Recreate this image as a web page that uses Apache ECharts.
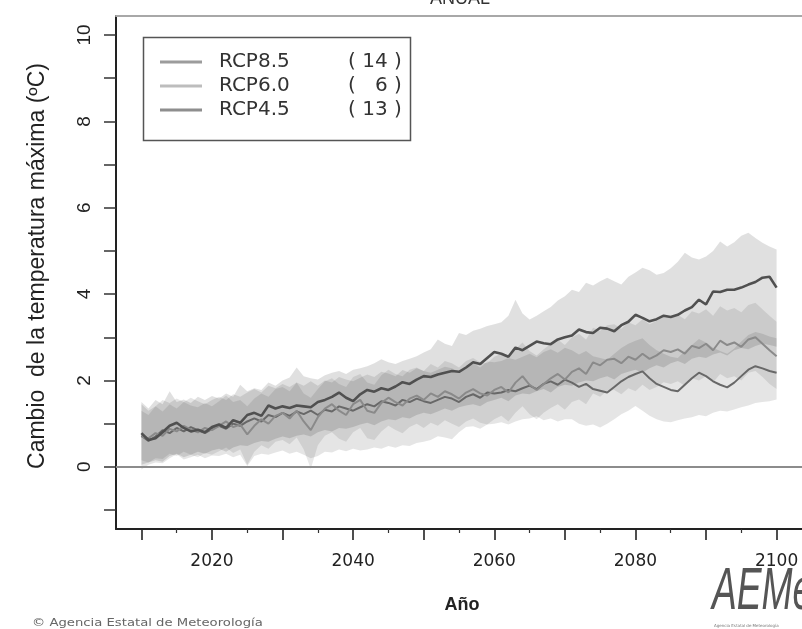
<!DOCTYPE html>
<html><head><meta charset="utf-8">
<script src="https://cdn.jsdelivr.net/npm/echarts@6/dist/echarts.min.js"></script>
<style>html,body{margin:0;padding:0;background:#fff}#c{width:802px;height:629px}</style>
</head><body><div id="c"></div>
<script>
const years = [2010,2011,2012,2013,2014,2015,2016,2017,2018,2019,2020,2021,2022,2023,2024,2025,2026,2027,2028,2029,2030,2031,2032,2033,2034,2035,2036,2037,2038,2039,2040,2041,2042,2043,2044,2045,2046,2047,2048,2049,2050,2051,2052,2053,2054,2055,2056,2057,2058,2059,2060,2061,2062,2063,2064,2065,2066,2067,2068,2069,2070,2071,2072,2073,2074,2075,2076,2077,2078,2079,2080,2081,2082,2083,2084,2085,2086,2087,2088,2089,2090,2091,2092,2093,2094,2095,2096,2097,2098,2099,2100];

const rcp85Mean = [0.78,0.62,0.66,0.80,0.95,1.02,0.90,0.82,0.86,0.80,0.92,0.98,0.90,1.08,1.02,1.20,1.25,1.18,1.42,1.35,1.40,1.36,1.42,1.40,1.38,1.50,1.55,1.62,1.72,1.60,1.52,1.68,1.78,1.74,1.82,1.78,1.86,1.96,1.92,2.02,2.10,2.08,2.14,2.18,2.22,2.20,2.30,2.42,2.38,2.52,2.66,2.62,2.55,2.76,2.70,2.80,2.90,2.86,2.84,2.95,3.00,3.04,3.18,3.12,3.10,3.22,3.20,3.14,3.28,3.36,3.52,3.45,3.37,3.42,3.50,3.47,3.52,3.62,3.70,3.87,3.76,4.06,4.05,4.10,4.10,4.15,4.22,4.28,4.38,4.40,4.15];
const rcp60Mean = [0.70,0.66,0.78,0.72,0.88,0.82,0.95,0.86,0.80,0.90,0.85,0.95,1.05,0.92,0.98,0.75,0.95,1.10,1.00,1.18,1.25,1.12,1.30,1.05,0.85,1.15,1.35,1.45,1.30,1.20,1.45,1.55,1.30,1.25,1.48,1.60,1.50,1.42,1.58,1.65,1.55,1.70,1.62,1.75,1.68,1.58,1.72,1.80,1.70,1.65,1.78,1.85,1.72,1.95,2.10,1.90,1.78,1.92,2.05,2.15,2.02,2.20,2.28,2.15,2.42,2.35,2.48,2.50,2.40,2.55,2.48,2.62,2.50,2.58,2.70,2.66,2.72,2.62,2.80,2.75,2.85,2.70,2.92,2.82,2.88,2.78,2.95,3.00,2.85,2.70,2.56];
const rcp45Mean = [0.72,0.60,0.70,0.85,0.78,0.90,0.82,0.92,0.85,0.78,0.88,0.95,0.88,1.00,0.95,1.05,1.12,1.05,1.20,1.15,1.25,1.18,1.28,1.22,1.30,1.20,1.32,1.28,1.40,1.35,1.30,1.38,1.45,1.40,1.52,1.48,1.42,1.55,1.50,1.58,1.52,1.48,1.55,1.62,1.58,1.50,1.62,1.68,1.60,1.72,1.70,1.72,1.78,1.75,1.82,1.88,1.80,1.92,1.98,1.90,2.02,1.95,1.85,1.92,1.80,1.76,1.72,1.85,1.98,2.08,2.15,2.21,2.05,1.92,1.85,1.78,1.75,1.90,2.05,2.18,2.10,1.98,1.90,1.84,1.95,2.10,2.25,2.33,2.28,2.22,2.18];

const rcp85High = [1.50,1.35,1.55,1.45,1.75,1.50,1.56,1.48,1.62,1.55,1.64,1.58,1.70,1.62,1.90,1.75,1.82,1.78,1.95,1.88,2.00,2.07,2.30,2.10,2.05,2.02,2.12,2.18,2.22,2.15,2.25,2.28,2.33,2.40,2.49,2.42,2.38,2.45,2.50,2.56,2.65,2.72,2.95,2.85,2.80,3.10,3.05,3.15,3.20,3.26,3.30,3.35,3.50,3.87,3.55,3.41,3.50,3.60,3.70,3.85,3.95,4.10,4.05,4.26,4.20,4.30,4.38,4.30,4.22,4.40,4.50,4.61,4.55,4.45,4.49,4.60,4.75,4.96,4.85,4.80,4.87,5.00,5.22,5.10,5.20,5.35,5.42,5.30,5.19,5.10,5.03];
const rcp85Low = [0.05,0.10,0.15,0.12,0.25,0.30,0.22,0.28,0.35,0.30,0.38,0.42,0.35,0.45,0.50,0.48,0.55,0.60,0.58,0.65,0.70,0.66,0.72,0.75,0.70,0.80,0.85,0.82,0.90,0.88,0.92,0.98,1.02,0.96,1.05,1.10,1.08,1.15,1.12,1.20,1.25,1.22,1.28,1.35,1.30,1.38,1.42,1.45,1.40,1.50,1.55,1.60,1.52,1.65,1.70,1.68,1.75,1.80,1.72,1.85,1.90,1.88,1.95,2.00,1.98,2.05,2.10,2.02,2.15,2.20,2.25,2.18,2.28,2.35,2.30,2.40,2.45,2.38,2.50,2.55,2.52,2.60,2.65,2.58,2.70,2.75,2.72,2.80,2.85,2.82,2.78];
const rcp60High = [1.30,1.20,1.40,1.28,1.45,1.35,1.50,1.42,1.38,1.48,1.40,1.52,1.65,1.50,1.55,1.40,1.58,1.70,1.62,1.80,1.85,1.75,1.95,1.70,1.60,1.80,1.98,2.05,1.92,1.85,2.08,2.15,1.95,1.90,2.12,2.25,2.15,2.10,2.25,2.30,2.22,2.38,2.30,2.45,2.40,2.30,2.45,2.52,2.42,2.40,2.55,2.62,2.50,2.72,2.88,2.68,2.58,2.72,2.85,2.95,2.82,3.00,3.08,2.95,3.22,3.15,3.28,3.30,3.20,3.35,3.28,3.42,3.30,3.38,3.50,3.46,3.52,3.42,3.60,3.55,3.65,3.50,3.72,3.62,3.68,3.58,3.75,3.80,3.65,3.50,3.36];
const rcp60Low = [0.15,0.10,0.20,0.18,0.30,0.25,0.35,0.28,0.22,0.32,0.28,0.36,0.45,0.32,0.40,0.05,0.35,0.50,0.42,0.58,0.62,0.52,0.68,0.40,-0.05,0.50,0.72,0.80,0.65,0.58,0.80,0.90,0.66,0.62,0.82,0.95,0.85,0.78,0.92,1.00,0.90,1.02,0.95,1.08,1.00,0.92,1.05,1.12,1.02,0.98,1.10,1.18,1.05,1.25,1.40,1.22,1.10,1.25,1.36,1.45,1.32,1.50,1.56,1.45,1.70,1.62,1.76,1.78,1.68,1.82,1.75,1.90,1.78,1.85,1.96,1.92,1.98,1.88,2.05,2.00,2.10,1.95,2.15,2.05,2.10,2.00,2.18,2.22,2.08,1.92,1.80];
const rcp45High = [1.45,1.30,1.40,1.55,1.48,1.58,1.50,1.60,1.52,1.45,1.55,1.62,1.55,1.68,1.62,1.72,1.80,1.72,1.88,1.82,1.92,1.85,1.95,1.88,1.98,1.88,2.00,1.95,2.08,2.02,1.98,2.06,2.14,2.08,2.20,2.16,2.10,2.24,2.18,2.28,2.22,2.18,2.25,2.32,2.28,2.20,2.32,2.40,2.30,2.44,2.42,2.45,2.52,2.48,2.55,2.62,2.54,2.66,2.72,2.64,2.76,2.70,2.60,2.68,2.56,2.52,2.48,2.62,2.75,2.85,2.92,2.98,2.82,2.70,2.62,2.55,2.52,2.68,2.82,2.96,2.88,2.76,2.68,2.62,2.74,2.90,3.05,3.12,3.08,3.02,2.98];
const rcp45Low = [-0.06,0.05,0.10,0.08,0.20,0.29,0.17,0.22,0.28,0.20,0.26,0.25,0.30,0.22,0.28,0.02,0.25,0.30,0.28,0.33,0.38,0.30,0.35,0.28,0.20,0.25,0.35,0.33,0.40,0.36,0.42,0.38,0.40,0.45,0.42,0.48,0.44,0.50,0.48,0.55,0.58,0.62,0.71,0.68,0.64,0.80,0.92,0.94,0.88,0.98,1.00,1.03,0.98,1.05,1.10,1.12,1.17,1.08,1.12,1.05,1.10,1.10,1.00,0.95,0.98,0.91,1.00,1.10,1.22,1.30,1.41,1.30,1.18,1.10,1.05,1.03,1.08,1.12,1.15,1.20,1.17,1.25,1.30,1.28,1.33,1.38,1.42,1.48,1.50,1.52,1.56];

const scenarioNames = ['RCP8.5','RCP6.0','RCP4.5'];
const modelCounts = [14, 6, 13];
const xMajorTicks = [2010,2020,2030,2040,2050,2060,2070,2080,2090,2100];
const xMinorTicks = [2015,2025,2035,2045,2055,2065,2075,2085,2095];
const xTickLabels = [2020,2040,2060,2080,2100];
const yTicks = [-1,0,1,2,3,4,5,6,7,8,9,10];
const yTickLabels = [0,2,4,6,8,10];

const XMIN = 2006.4, XMAX = 2103.6, YMIN = -1.44, YMAX = 10.44;

function bandSeries(name, lo, hi, fill) {
  return {
    name: name, type: 'custom', silent: true, z: 1,
    data: years.map((y, i) => [y, lo[i], hi[i]]),
    encode: { x: 0, y: [1, 2] },
    renderItem: function (params, api) {
      if (params.dataIndex !== 0) return null;
      const pts = [];
      for (let i = 0; i < years.length; i++) pts.push(api.coord([years[i], hi[i]]));
      for (let i = years.length - 1; i >= 0; i--) pts.push(api.coord([years[i], lo[i]]));
      return { type: 'polygon', shape: { points: pts }, style: { fill: fill } };
    }
  };
}
function lineSeries(name, vals, color, width, z) {
  return {
    name: name, type: 'line', showSymbol: false, symbol: 'none', z: z,
    data: years.map((y, i) => [y, vals[i]]),
    lineStyle: { color: color, width: width }, itemStyle: { color: color }
  };
}

const chart = echarts.init(document.getElementById('c'), null, { renderer: 'canvas' });
const legendColors = ['#9c9c9c', '#bdbdbd', '#8e8e8e'];
const lineZero = lineSeries('RCP4.5', rcp45Mean, '#686868', 2, 5);
lineZero.markLine = {
  silent: true, symbol: 'none', label: { show: false }, animation: false,
  lineStyle: { color: '#8c8c8c', width: 2, type: 'solid' },
  data: [{ yAxis: 0 }]
};
const yearFmt = function (v) { return String(Math.round(v)); };

chart.setOption({
  animation: false,
  backgroundColor: '#ffffff',
  grid: { left: 116, top: 16, width: 690, height: 513 },
  xAxis: [
    { type: 'value', min: XMIN, max: XMAX, position: 'bottom',
      axisLine: { show: true, onZero: false, lineStyle: { color: '#222', width: 2 } },
      axisTick: { show: true, customValues: xMajorTicks, length: 11, lineStyle: { color: '#222', width: 1.6 } },
      axisLabel: { show: true, customValues: xTickLabels, formatter: yearFmt, margin: 24, fontSize: 17, fontFamily: 'DejaVu Sans', color: '#222' },
      splitLine: { show: false } },
    { type: 'value', min: XMIN, max: XMAX, position: 'bottom',
      axisLine: { show: false, onZero: false },
      axisTick: { show: true, customValues: xMinorTicks, length: 4, lineStyle: { color: '#333', width: 1.2 } },
      axisLabel: { show: false }, splitLine: { show: false } },
    { type: 'value', min: XMIN, max: XMAX, position: 'top',
      axisLine: { show: true, onZero: false, lineStyle: { color: '#a8a8a8', width: 2 } },
      axisTick: { show: false }, axisLabel: { show: false }, splitLine: { show: false } }
  ],
  yAxis: [
    { type: 'value', min: YMIN, max: YMAX, position: 'left',
      axisLine: { show: true, onZero: false, lineStyle: { color: '#222', width: 2 } },
      axisTick: { show: true, customValues: yTicks, length: 12, lineStyle: { color: '#333', width: 1.5 } },
      axisLabel: { show: true, customValues: yTickLabels, formatter: yearFmt, rotate: 90, margin: 22, fontSize: 19, fontFamily: 'Liberation Sans', color: '#222' },
      splitLine: { show: false } }
  ],
  legend: {
    show: true, orient: 'vertical', left: 160, top: 52, padding: 0,
    itemWidth: 42, itemHeight: 3, itemGap: 4, icon: 'rect', selectedMode: false,
    data: scenarioNames.map((n, i) => ({ name: n, itemStyle: { color: legendColors[i] } })),
    formatter: function (name) {
      const i = scenarioNames.indexOf(name);
      const c = modelCounts[i];
      const cs = c < 10 ? '(   ' + c + ' )' : '( ' + c + ' )';
      return '{g| }{n|' + name + '}{c|' + cs + '}';
    },
    textStyle: {
      fontSize: 20, fontFamily: 'DejaVu Sans', color: '#333', lineHeight: 20,
      rich: {
        g: { width: 12, fontSize: 20, fontFamily: 'DejaVu Sans', lineHeight: 20 },
        n: { width: 129, fontSize: 20, fontFamily: 'DejaVu Sans', color: '#333', lineHeight: 20 },
        c: { width: 56, fontSize: 20, fontFamily: 'DejaVu Sans', color: '#333', lineHeight: 20 }
      }
    }
  },
  graphic: [
    { type: 'rect', left: 141, top: 35, shape: { width: 267, height: 103 }, style: { fill: 'none', stroke: '#555', lineWidth: 1.5 }, z: 10 },
    { type: 'text', x: 460, y: -1, style: { text: 'ANUAL', fontSize: 18, fontFamily: 'Liberation Sans', fill: '#333', align: 'center', verticalAlign: 'middle' } },
    { type: 'text', x: 38, y: 266, rotation: Math.PI / 2, style: { text: 'Cambio  de la temperatura máxima (ºC)', fontSize: 23, fontFamily: 'Liberation Sans', fill: '#222', align: 'center', verticalAlign: 'middle' } },
    { type: 'text', x: 462, y: 605, style: { text: 'Año', fontSize: 18, fontWeight: 'bold', fontFamily: 'Liberation Sans', fill: '#222', align: 'center', verticalAlign: 'middle' } },
    { type: 'text', x: 32, y: 623, scaleX: 1.2, style: { text: '© Agencia Estatal de Meteorología', fontSize: 11, fontFamily: 'DejaVu Sans', fill: '#666', align: 'left', verticalAlign: 'middle' } },
    { type: 'text', x: 712, y: 622, scaleX: 0.62, style: { text: 'AEMet', fontSize: 60, fontFamily: 'Liberation Sans', fontStyle: 'italic', fill: '#555', align: 'left', verticalAlign: 'bottom' } },
    { type: 'text', x: 714, y: 626, style: { text: 'Agencia Estatal de Meteorología', fontSize: 4, fontFamily: 'DejaVu Sans', fill: '#777', align: 'left', verticalAlign: 'middle' } }
  ],
  series: [
    bandSeries('banda RCP8.5', rcp85Low, rcp85High, 'rgba(0,0,0,0.12)'),
    bandSeries('banda RCP6.0', rcp60Low, rcp60High, 'rgba(0,0,0,0.09)'),
    bandSeries('banda RCP4.5', rcp45Low, rcp45High, 'rgba(0,0,0,0.10)'),
    lineZero,
    lineSeries('RCP6.0', rcp60Mean, '#8a8a8a', 2, 6),
    lineSeries('RCP8.5', rcp85Mean, '#505050', 2.6, 7)
  ]
});
</script></body></html>
